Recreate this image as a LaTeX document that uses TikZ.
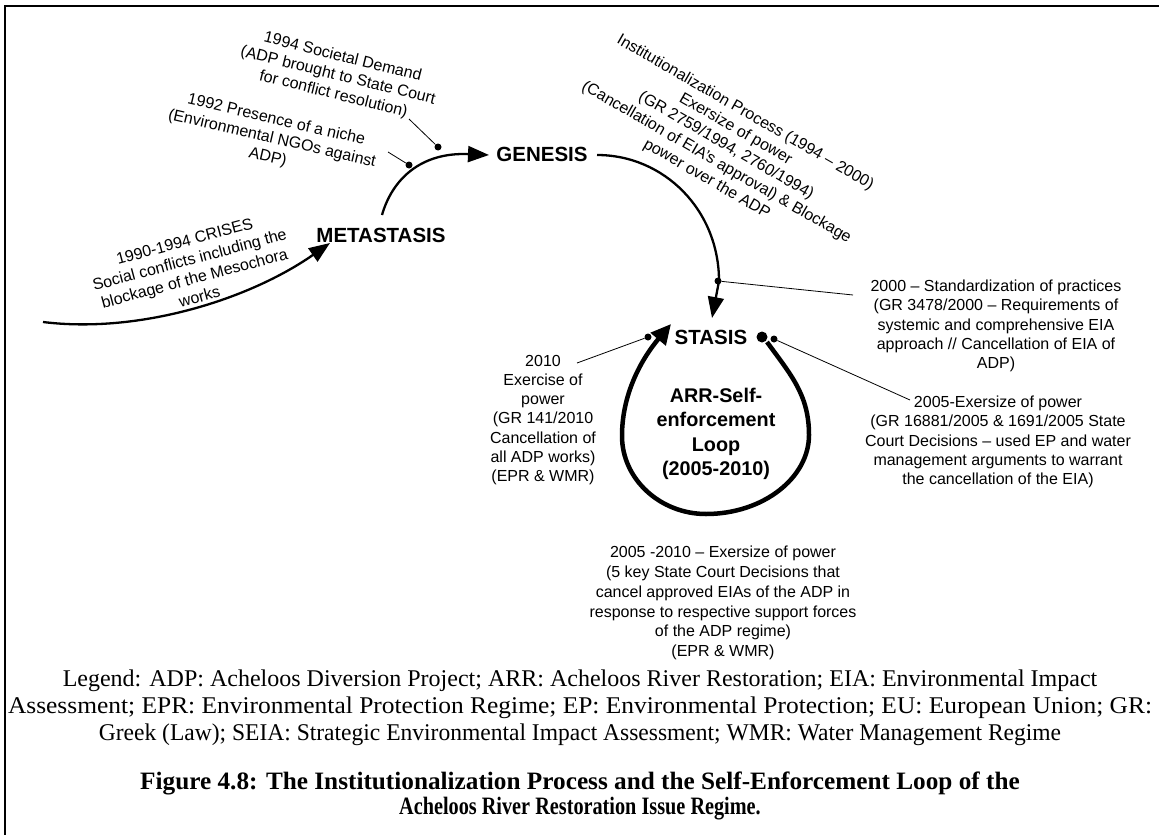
\documentclass[tikz,border=0pt]{standalone}
\usepackage{fontspec}
\setmainfont{Liberation Serif}
\newfontfamily\arialfont{Liberation Sans}
\usetikzlibrary{arrows.meta}
\begin{document}
\begin{tikzpicture}[x=1pt,y=-1pt,
  lbl/.style={font=\arialfont\fontsize{16}{19.2}\selectfont, align=center, inner sep=0pt},
  stage/.style={font=\arialfont\bfseries\fontsize{20.5}{24.5}\selectfont, align=center, inner sep=0pt},
  looptext/.style={font=\arialfont\bfseries\fontsize{19.8}{24.5}\selectfont, align=center, inner sep=0pt},
  flow/.style={line width=2.3pt, -{Triangle[length=21pt,width=16pt]}},
  loopline/.style={line width=4.5pt, -{Triangle[length=20pt,width=19pt]}},
  lead/.style={line width=0.8pt},
  pin/.style={circle, fill=black, inner sep=0pt, minimum size=7pt},
  legendtext/.style={font=\fontsize{24}{27}\selectfont, align=center, inner sep=0pt},
  captiontext/.style={font=\bfseries\fontsize{25}{25}\selectfont, align=center, inner sep=0pt},
]
\useasboundingbox (0,0) rectangle (1159,835);

% open frame (left and top edges)
\coordinate (fbl) at (5,840);
\coordinate (ftl) at (5,6);
\coordinate (ftr) at (1165,6);
\draw[line width=2.6pt] (fbl) -- (ftl) -- (ftr);

% stage labels
\node[stage] (meta) at (381,235) {METASTASIS};
\node[stage] (gen) at (542,154) {GENESIS};
\node[stage] (stasis) at (711,337) {STASIS};
\node[looptext] (loop) at (716,434) {ARR-Self-\\enforcement\\Loop\\(2005-2010)};

% event annotations
\node[lbl, rotate=15] (crises) at (192,269) {1990-1994 CRISES\\Social conflicts including the\\blockage of the Mesochora\\works};
\node[lbl, rotate=-13] (niche) at (272,139) {1992 Presence of a niche\\(Environmental NGOs against\\ADP)};
\node[lbl, rotate=-14] (demand) at (338,76) {1994 Societal Demand\\(ADP brought to State Court\\for conflict resolution)};
\node[lbl, rotate=-30] (inst) at (726,146) {Institutionalization Process (1994 – 2000)\\Exersize of power\\(GR 2759/1994, 2760/1994)\\(Cancellation of EIA’s approval) \& Blockage\\power over the ADP};
\node[lbl] (t2000) at (996,326) {2000 – Standardization of practices\\(GR 3478/2000 – Requirements of\\systemic and comprehensive EIA\\approach // Cancellation of EIA of\\ADP)};
\node[lbl] (t2005) at (998,442) {2005-Exersize of power\\(GR 16881/2005 \& 1691/2005 State\\Court Decisions – used EP and water\\management arguments to warrant\\the cancellation of the EIA)};
\node[lbl] (t2010) at (543,420) {2010\\Exercise of\\power\\(GR 141/2010\\Cancellation of\\all ADP works)\\(EPR \& WMR)};
\node[lbl, font=\arialfont\fontsize{16}{19.8}\selectfont] (t0510) at (723,603) {2005 -2010 – Exersize of power\\(5 key State Court Decisions that\\cancel approved EIAs of the ADP in\\response to respective support forces\\of the ADP regime)\\(EPR \& WMR)};

% legend and caption
\node[legendtext] (legend) at (580,708) {Legend: ADP: Acheloos Diversion Project; ARR: Acheloos River Restoration; EIA: Environmental Impact\\\scalebox{1.06}[1]{Assessment; EPR: Environmental Protection Regime; EP: Environmental Protection; EU: European Union; GR:}\\\scalebox{0.98}[1]{Greek (Law); SEIA: Strategic Environmental Impact Assessment; WMR: Water Management Regime}};
\node[captiontext] (caption) at (580,796) {\scalebox{1.01}[1]{Figure 4.8: The Institutionalization Process and the Self-Enforcement Loop of the}\\\scalebox{0.81}[1]{Acheloos River Restoration Issue Regime.}};

% flow path
\coordinate (crA) at (43,322);
\coordinate (crB) at (330,243);
\draw[flow] (crA) .. controls (140,334) and (250,299) .. (crB);

\coordinate (mgA) at (382,215);
\coordinate (mgB) at (489,155);
\draw[flow] (mgA) .. controls (392,180) and (420,152) .. (mgB);

\coordinate (gsA) at (597,155);
\coordinate (gsB) at (719,281);
\coordinate (gsC) at (712,318);
\draw[flow] (gsA) .. controls (664,155) and (719,210) .. (gsB) -- (gsC);

% self-enforcement loop
\node[circle, fill=black, inner sep=0pt, minimum size=11pt] (bigdot) at (762,337) {};
\coordinate (lpA) at (767,342);
\coordinate (lpB) at (809,435);
\coordinate (lpC) at (706,514);
\coordinate (lpD) at (622,436);
\coordinate (lpE) at (671,324);
\draw[loopline] (lpA) .. controls (791,375) and (809,395) .. (lpB)
  .. controls (809,478) and (763,514) .. (lpC)
  .. controls (660,514) and (622,479) .. (lpD)
  .. controls (622,391) and (644,356) .. (lpE);

% leader lines with pins
\node[pin] (p1992) at (409,165) {};
\coordinate (e1992) at (388,152);
\draw[lead] (p1992) -- (e1992);
\node[pin] (p1994) at (438,147) {};
\coordinate (e1994) at (409,119);
\draw[lead] (p1994) -- (e1994);
\node[pin] (p2000) at (718,281) {};
\coordinate (e2000) at (853,295);
\draw[lead] (p2000) -- (e2000);
\node[pin] (p2005) at (774,339) {};
\coordinate (e2005) at (910,400);
\draw[lead] (p2005) -- (e2005);
\node[pin] (p2010) at (648,337) {};
\coordinate (e2010) at (577,363);
\draw[lead] (p2010) -- (e2010);
\end{tikzpicture}
\end{document}
